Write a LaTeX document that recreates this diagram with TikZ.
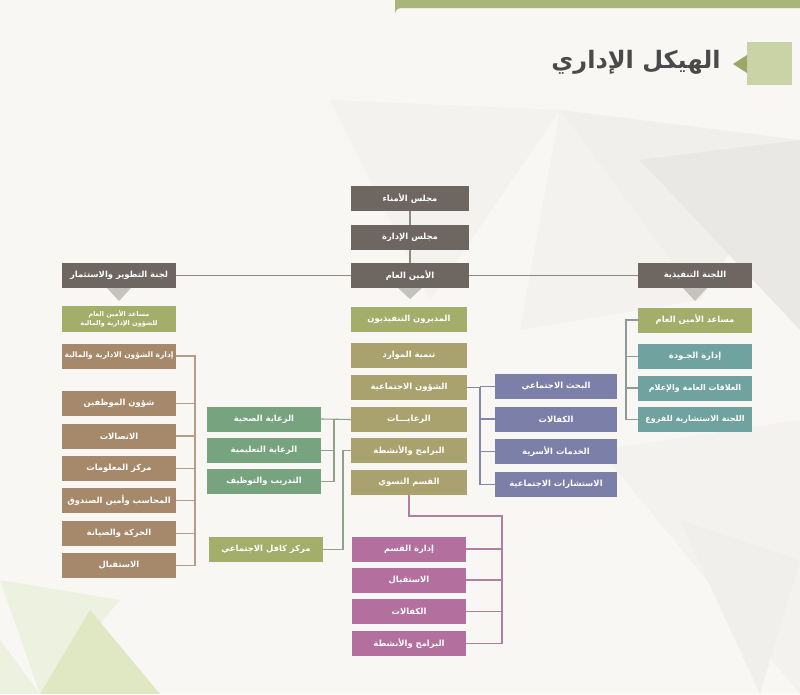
\documentclass[tikz,border=0pt]{standalone}
\usepackage{fontspec}
\newfontfamily\arabicfont[Script=Arabic]{DejaVu Sans}
\TeXXeTstate=1
\newcommand{\artx}[1]{\beginR #1\endR}
\definecolor{bgc}{HTML}{F8F7F4}
\definecolor{polyA}{HTML}{F0EFEB}
\definecolor{polyB}{HTML}{E9E8E4}
\definecolor{polyC}{HTML}{F3F2EE}
\definecolor{greenA}{HTML}{DFE7C3}
\definecolor{greenB}{HTML}{EDF1E0}
\definecolor{topbar}{HTML}{A9B57A}
\definecolor{sqlight}{HTML}{C9D3A6}
\definecolor{sqdark}{HTML}{9AA66A}
\definecolor{titlec}{HTML}{4A4A4A}
\definecolor{taupe}{HTML}{6E6661}
\definecolor{olivegreen}{HTML}{A3AE6B}
\definecolor{khaki}{HTML}{AAA26E}
\definecolor{tan}{HTML}{A6896A}
\definecolor{leafgreen}{HTML}{77A37F}
\definecolor{slate}{HTML}{7C80A8}
\definecolor{mauve}{HTML}{B3709F}
\definecolor{teal}{HTML}{70A39F}
\definecolor{tri}{HTML}{C6C3BE}
\definecolor{linegray}{HTML}{8E8984}
\definecolor{linetan}{HTML}{B39F86}
\definecolor{linegreen}{HTML}{8FA08E}
\definecolor{lineblue}{HTML}{8487A6}
\definecolor{linemauve}{HTML}{B27DA2}
\definecolor{lineteal}{HTML}{8A9A98}
\tikzset{
  boxnode/.style={rectangle, inner sep=0pt, minimum height=25pt, text=white,
    font=\arabicfont\bfseries\fontsize{8.4}{10}\selectfont},
  smalltext/.style={font=\arabicfont\bfseries\fontsize{7.5}{9}\selectfont},
  topbox/.style={boxnode, fill=taupe, minimum width=118pt},
  sidebox/.style={boxnode, fill=taupe, minimum width=114pt},
  lbox/.style={boxnode, fill=tan, minimum width=114pt},
  cbox/.style={boxnode, fill=khaki, minimum width=116pt},
  gbox/.style={boxnode, fill=leafgreen, minimum width=114pt},
  bbox/.style={boxnode, fill=slate, minimum width=122pt},
  pbox/.style={boxnode, fill=mauve, minimum width=114pt},
  rbox/.style={boxnode, fill=teal, minimum width=114pt},
  obox/.style={boxnode, fill=olivegreen},
  conn/.style={line width=1.1pt},
}
\begin{document}
\begin{tikzpicture}[x=1pt,y=-1pt]
\useasboundingbox (0,0) rectangle (800,694);
% background
\fill[bgc] (0,0) rectangle (800,694);
\fill[polyC] (330,100) -- (560,110) -- (430,300) -- cycle;
\fill[polyA] (560,110) -- (800,140) -- (700,300) -- cycle;
\fill[polyB] (640,160) -- (800,140) -- (800,330) -- cycle;
\fill[polyC] (560,110) -- (700,300) -- (520,330) -- cycle;
\fill[polyC] (600,450) -- (800,420) -- (800,694) -- cycle;
\fill[polyA] (680,520) -- (800,560) -- (760,694) -- cycle;
\fill[greenB] (0,580) -- (120,600) -- (40,694) -- cycle;
\fill[greenA] (90,610) -- (160,694) -- (40,694) -- cycle;
\fill[greenB] (0,640) -- (40,694) -- (0,694) -- cycle;
% top bar
\fill[topbar] (395,0) -- (800,0) -- (800,8) -- (401,8) arc[start angle=90, end angle=180, radius=6pt] -- cycle;
% title
\fill[sqlight] (747,42) rectangle (792,85);
\fill[sqdark] (733,64) -- (747,55) -- (747,73) -- cycle;
\node[font=\arabicfont\bfseries\fontsize{24}{28}\selectfont, text=titlec] (title) at (636,62) {\artx{الهيكل الإداري}};
% top column
\node[topbox] (trust) at (410,198.5) {\artx{مجلس الأمناء}};
\node[topbox] (board) at (410,237.5) {\artx{مجلس الإدارة}};
\node[topbox] (sg) at (410,275.5) {\artx{الأمين العام}};
\node[sidebox] (dev) at (119,275.5) {\artx{لجنة التطوير والاستثمار}};
\node[sidebox] (exe) at (695,275.5) {\artx{اللجنة التنفيذية}};
% triangles
\fill[tri] (398,288) -- (422,288) -- (410,299) -- cycle;
\fill[tri] (107,288) -- (131,288) -- (119,301) -- cycle;
\fill[tri] (683,288) -- (707,288) -- (695,301) -- cycle;
% left column
\node[obox, minimum width=114pt, minimum height=26pt, align=center,
  font=\arabicfont\bfseries\fontsize{6.5}{9}\selectfont] (lasst) at (119,319)
  {\artx{مساعد الأمين العام}\\\artx{للشؤون الإدارية والمالية}};
\node[lbox, smalltext] (l1) at (119,356) {\artx{إدارة الشؤون الادارية والمالية}};
\node[lbox] (l2) at (119,403.5) {\artx{شؤون الموظفين}};
\node[lbox] (l3) at (119,436) {\artx{الاتصالات}};
\node[lbox] (l4) at (119,468.5) {\artx{مركز المعلومات}};
\node[lbox] (l5) at (119,500.5) {\artx{المحاسب وأمين الصندوق}};
\node[lbox] (l6) at (119,533.5) {\artx{الحركة والصيانة}};
\node[lbox] (l7) at (119,565.5) {\artx{الاستقبال}};
% center column
\node[obox, minimum width=116pt] (c0) at (409,319.5) {\artx{المديرون التنفيذيون}};
\node[cbox] (c1) at (409,355.5) {\artx{تنمية الموارد}};
\node[cbox] (c2) at (409,387.5) {\artx{الشؤون الاجتماعية}};
\node[cbox] (c3) at (409,419.5) {\artx{الرعايـــات}};
\node[cbox] (c4) at (409,450.5) {\artx{البرامج والأنشطة}};
\node[cbox] (c5) at (409,482) {\artx{القسم النسوي}};
% green care boxes
\node[gbox] (g1) at (264,419) {\artx{الرعاية الصحية}};
\node[gbox] (g2) at (264,450.5) {\artx{الرعاية التعليمية}};
\node[gbox] (g3) at (264,481.5) {\artx{التدريب والتوظيف}};
\node[obox, minimum width=114pt] (kafel) at (266,549.5) {\artx{مركز كافل الاجتماعي}};
% blue social boxes
\node[bbox] (b1) at (556,386.5) {\artx{البحث الاجتماعي}};
\node[bbox] (b2) at (556,419) {\artx{الكفالات}};
\node[bbox] (b3) at (556,451.5) {\artx{الخدمات الأسرية}};
\node[bbox] (b4) at (556,484.5) {\artx{الاستشارات الاجتماعية}};
% purple women boxes
\node[pbox] (p1) at (409,549) {\artx{إدارة القسم}};
\node[pbox] (p2) at (409,580) {\artx{الاستقبال}};
\node[pbox] (p3) at (409,611.5) {\artx{الكفالات}};
\node[pbox] (p4) at (409,643.5) {\artx{البرامج والأنشطة}};
% right column
\node[obox, minimum width=114pt] (rasst) at (695,320) {\artx{مساعد الأمين العام}};
\node[rbox] (r1) at (695,356.5) {\artx{إدارة الجـودة}};
\node[rbox, font=\arabicfont\bfseries\fontsize{8}{10}\selectfont] (r2) at (695,388) {\artx{العلاقات العامة والإعلام}};
\node[rbox, font=\arabicfont\bfseries\fontsize{8}{10}\selectfont] (r3) at (695,419.5) {\artx{اللجنة الاستشارية للفروع}};
% bracket coordinates
\coordinate (lx) at (195,0);
\coordinate (gx) at (334,0);
\coordinate (kx) at (343,0);
\coordinate (bx) at (480,0);
\coordinate (px) at (502,0);
\coordinate (rx) at (626,0);
\coordinate (pturn) at (409,516);
% main connectors
\draw[conn, linegray] (trust.south) -- (board.north);
\draw[conn, linegray] (board.south) -- (sg.north);
\draw[conn, linegray] (dev.east) -- (sg.west);
\draw[conn, linegray] (sg.east) -- (exe.west);
% left bracket
\draw[conn, linetan] (l1.east) -- (l1.east -| lx) -- (l7.east -| lx) -- (l7.east);
\foreach \n in {l2,l3,l4,l5,l6} \draw[conn, linetan] (\n.east) -- (\n.east -| lx);
% care bracket
\draw[conn, linegreen] (c3.west) -- (g1.east);
\draw[conn, linegreen] (g1.east -| gx) -- (g3.east -| gx) -- (g3.east);
\draw[conn, linegreen] (g2.east) -- (g2.east -| gx);
% kafel connector
\draw[conn, linegreen] (c4.west) -- (c4.west -| kx) -- (kafel.east -| kx) -- (kafel.east);
% social bracket
\draw[conn, lineblue] (c2.east) -- (c2.east -| bx) -- (b4.west -| bx) -- (b4.west);
\foreach \n in {b1,b2,b3} \draw[conn, lineblue] (\n.west) -- (\n.west -| bx);
% women bracket
\draw[conn, linemauve] (c5.south) -- (pturn) -- (pturn -| px) -- (p4.east -| px) -- (p4.east);
\foreach \n in {p1,p2,p3} \draw[conn, linemauve] (\n.east) -- (\n.east -| px);
% right bracket
\draw[conn, lineteal] (rasst.west) -- (rasst.west -| rx) -- (r3.west -| rx) -- (r3.west);
\foreach \n in {r1,r2} \draw[conn, lineteal] (\n.west) -- (\n.west -| rx);
\end{tikzpicture}
\end{document}
